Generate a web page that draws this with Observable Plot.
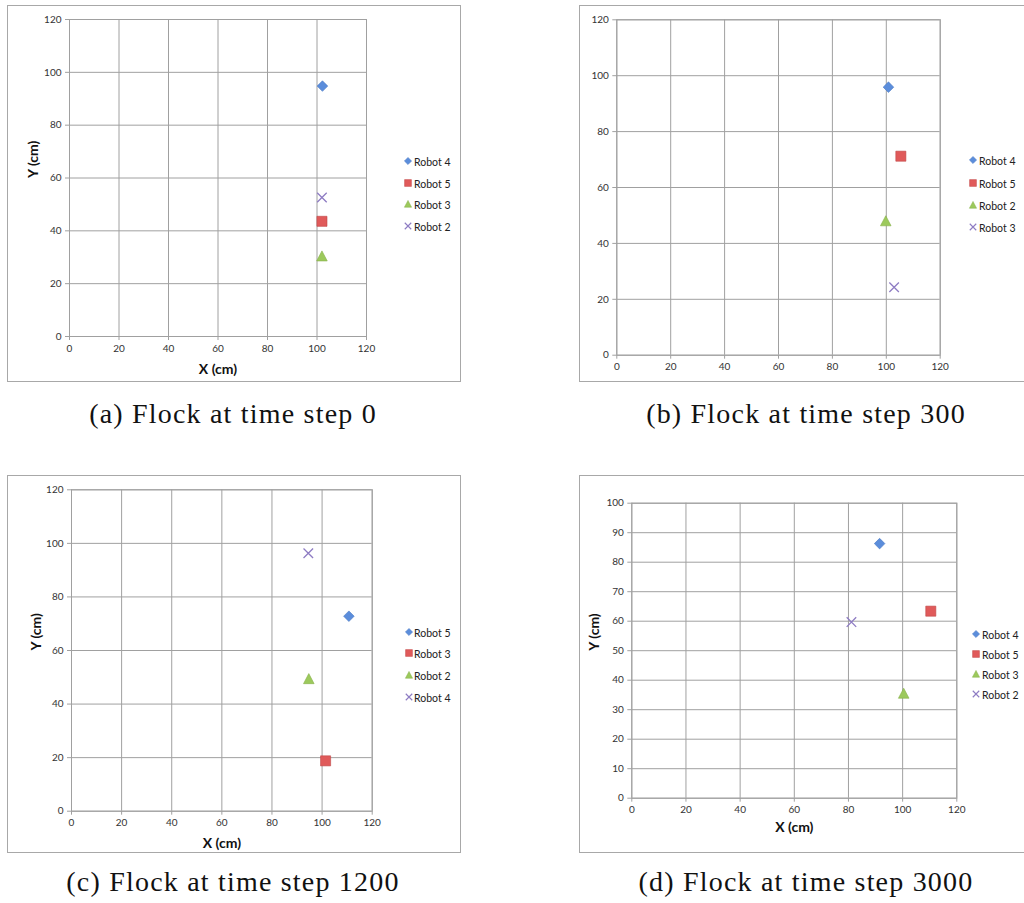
<!DOCTYPE html>
<html>
<head>
<meta charset="utf-8">
<script src="https://cdn.jsdelivr.net/npm/d3@7"></script>
<script src="https://cdn.jsdelivr.net/npm/@observablehq/plot@0.6"></script>
<style>
  html, body { margin: 0; padding: 0; background: #fff; }
  #fig { position: relative; width: 1024px; height: 903px; overflow: hidden; background: #fff; }
  .box { position: absolute; outline: 1px solid #a8a8a8; outline-offset: -1px; background: #fff; }
  .box svg { display: block; overflow: visible; }
  .legend { position: absolute; font-family: Lato, "Open Sans", sans-serif; font-size: 10.5px; color: #222; }
  .legend .row { position: absolute; white-space: nowrap; height: 12px; line-height: 12px; }
  .legend svg { position: absolute; overflow: visible; }
</style>
</head>
<body>
<div id="fig"></div>
<script>
// ---------------- DATA ----------------
// marker slots (legend order): blue diamond, red square, green triangle, purple cross
const xTicks = [0, 20, 40, 60, 80, 100, 120];
const yTicks120 = [0, 20, 40, 60, 80, 100, 120];
const yTicks100 = [0, 10, 20, 30, 40, 50, 60, 70, 80, 90, 100];

const captions = [
  "(a) Flock at time step 0",
  "(b) Flock at time step 300",
  "(c) Flock at time step 1200",
  "(d) Flock at time step 3000"
];

const namesA = ["Robot 4", "Robot 5", "Robot 3", "Robot 2"];
const xA = [102.2, 102.0, 102.0, 102.0];
const yA = [94.8, 43.6, 30.4, 52.6];

const namesB = ["Robot 4", "Robot 5", "Robot 2", "Robot 3"];
const xB = [100.8, 105.4, 99.8, 102.9];
const yB = [95.9, 71.2, 48.0, 24.3];

const namesC = ["Robot 5", "Robot 3", "Robot 2", "Robot 4"];
const xC = [110.7, 101.4, 94.7, 94.5];
const yC = [72.8, 18.8, 49.4, 96.3];

const namesD = ["Robot 4", "Robot 5", "Robot 3", "Robot 2"];
const xD = [91.5, 110.4, 100.4, 81.1];
const yD = [86.3, 63.4, 35.5, 59.7];

// ---------------- SYMBOLS ----------------
const SYM = [
  { draw(c, size) { const r = Math.sqrt(size / Math.PI); c.moveTo(0, -r); c.lineTo(r, 0); c.lineTo(0, r); c.lineTo(-r, 0); c.closePath(); } },
  { draw(c, size) { const r = Math.sqrt(size / Math.PI) * 0.95; c.rect(-r, -r, 2 * r, 2 * r); } },
  { draw(c, size) { const r = Math.sqrt(size / Math.PI); c.moveTo(0, -r); c.lineTo(r, r * 0.9); c.lineTo(-r, r * 0.9); c.closePath(); } },
  { draw(c, size) { const r = Math.sqrt(size / Math.PI) * 0.9; c.moveTo(-r, -r); c.lineTo(r, r); c.moveTo(r, -r); c.lineTo(-r, r); } }
];
const STYLE = [
  { fill: "#5b8ddb", stroke: "#4a78c2", strokeWidth: 0.6 },
  { fill: "#e05a5a", stroke: "#c04646", strokeWidth: 0.6 },
  { fill: "#9cc95c", stroke: "#87b048", strokeWidth: 0.6 },
  { fill: "none", stroke: "#8e7cc3", strokeWidth: 1.3 }
];

// ---------------- LAYOUT ----------------
const panels = [
  { names: namesA, xs: xA, ys: yA, ymax: 120, yTicks: yTicks120,
    box: { x: 7, y: 5, w: 454, h: 377 }, area: { x0: 69, x1: 366, yTop: 19, yBot: 336 },
    xLabel: "X (cm)", yLabel: "Y (cm)", xLabelDy: 37, yLabelDx: -36,
    legend: { mx: 407.5, tx: 414, rows: [162, 183.5, 205, 227] },
    cap: { cx: 233, base: 423 } },
  { names: namesB, xs: xB, ys: yB, ymax: 120, yTicks: yTicks120,
    box: { x: 579, y: 5, w: 447, h: 377 }, area: { x0: 616.3, x1: 939.7, yTop: 19.3, yBot: 354.7 },
    xLabel: null, yLabel: null,
    legend: { mx: 973, tx: 979, rows: [161, 183.5, 205.5, 228] },
    cap: { cx: 806, base: 423 } },
  { names: namesC, xs: xC, ys: yC, ymax: 120, yTicks: yTicks120,
    box: { x: 7, y: 475, w: 454, h: 378 }, area: { x0: 71, x1: 371.7, yTop: 489.3, yBot: 810.7 },
    xLabel: "X (cm)", yLabel: "Y (cm)", xLabelDy: 36.5, yLabelDx: -35,
    legend: { mx: 408.7, tx: 414, rows: [632.7, 654.3, 676.3, 698.3] },
    cap: { cx: 233, base: 891 } },
  { names: namesD, xs: xD, ys: yD, ymax: 100, yTicks: yTicks100,
    box: { x: 579, y: 475, w: 447, h: 378 }, area: { x0: 631.3, x1: 956.3, yTop: 502.7, yBot: 797.7 },
    xLabel: "X (cm)", yLabel: "Y (cm)", xLabelDy: 34, yLabelDx: -37.6,
    legend: { mx: 976.3, tx: 982, rows: [635, 655, 675, 695] },
    cap: { cx: 806, base: 891 } }
];

const fig = document.getElementById("fig");
const GRID = "#a0a0a0";

panels.forEach((p) => {
  const { box, area } = p;
  const data = p.names.map((n, i) => ({ name: n, x: p.xs[i], y: p.ys[i], slot: i }));

  const marks = [
    Plot.gridX(xTicks, { stroke: GRID, strokeOpacity: 1 }),
    Plot.gridY(p.yTicks, { stroke: GRID, strokeOpacity: 1 }),
    Plot.frame({ stroke: GRID }),
    Plot.axisX(xTicks, { tickSize: 4, tickPadding: 4, stroke: GRID, fill: "#333", label: null, tickFormat: (d) => String(d) }),
    Plot.axisY(p.yTicks, { tickSize: 4, tickPadding: 4, stroke: GRID, fill: "#333", label: null, tickFormat: (d) => String(d) })
  ];
  if (p.xLabel) {
    marks.push(Plot.text([p.xLabel], { text: (d) => d, frameAnchor: "bottom", dy: p.xLabelDy,
      fontWeight: "bold", fontSize: 14, fill: "#111" }));
  }
  if (p.yLabel) {
    marks.push(Plot.text([p.yLabel], { text: (d) => d, frameAnchor: "left", dx: p.yLabelDx, rotate: -90,
      fontWeight: "bold", fontSize: 14, fill: "#111" }));
  }
  data.forEach((d) => {
    marks.push(Plot.dot([d], { x: "x", y: "y", r: 5.3, symbol: SYM[d.slot], ...STYLE[d.slot],
      style: "filter: drop-shadow(1px 1px 1px rgba(0,0,0,0.25))" }));
  });

  const chart = Plot.plot({
    width: box.w,
    height: box.h,
    marginLeft: area.x0 - box.x,
    marginRight: box.x + box.w - area.x1,
    marginTop: area.yTop - box.y,
    marginBottom: box.y + box.h - area.yBot,
    x: { domain: [0, 120] },
    y: { domain: [0, p.ymax] },
    style: { fontFamily: "Lato, 'Open Sans', sans-serif", fontSize: "10px", color: "#333", background: "white", overflow: "visible" },
    marks
  });

  const wrap = document.createElement("div");
  wrap.className = "box";
  wrap.style.left = box.x + "px";
  wrap.style.top = box.y + "px";
  wrap.style.width = box.w + "px";
  wrap.style.height = box.h + "px";
  wrap.appendChild(chart);
  fig.appendChild(wrap);

  // legend
  const leg = document.createElement("div");
  leg.className = "legend";
  leg.style.left = "0px"; leg.style.top = "0px";
  p.names.forEach((name, i) => {
    const cy = p.legend.rows[i];
    const ns = "http://www.w3.org/2000/svg";
    const s = document.createElementNS(ns, "svg");
    s.setAttribute("width", 10); s.setAttribute("height", 10);
    s.style.left = (p.legend.mx - 5) + "px";
    s.style.top = (cy - 5 - 1) + "px";
    const path = document.createElementNS(ns, "path");
    const dp = d3.path();
    SYM[i].draw(dp, Math.PI * 3.6 * 3.6);
    path.setAttribute("d", dp.toString());
    path.setAttribute("transform", "translate(5,5)");
    path.setAttribute("fill", STYLE[i].fill);
    path.setAttribute("stroke", STYLE[i].stroke);
    path.setAttribute("stroke-width", i === 3 ? 1.1 : 0.5);
    s.appendChild(path);
    leg.appendChild(s);
    const row = document.createElement("div");
    row.className = "row";
    row.style.left = p.legend.tx + "px";
    row.style.top = (cy - 6) + "px";
    row.textContent = name;
    leg.appendChild(row);
  });
  fig.appendChild(leg);
});

// captions
const ns = "http://www.w3.org/2000/svg";
const capSvg = document.createElementNS(ns, "svg");
capSvg.setAttribute("width", 1024);
capSvg.setAttribute("height", 903);
capSvg.style.position = "absolute";
capSvg.style.left = "0px";
capSvg.style.top = "0px";
capSvg.style.pointerEvents = "none";
panels.forEach((p, i) => {
  const t = document.createElementNS(ns, "text");
  t.setAttribute("x", p.cap.cx);
  t.setAttribute("y", p.cap.base);
  t.setAttribute("text-anchor", "middle");
  t.setAttribute("font-family", "'Liberation Serif', 'DejaVu Serif', serif");
  t.setAttribute("font-size", "28");
  t.setAttribute("letter-spacing", "1.2");
  t.setAttribute("fill", "#111");
  t.textContent = captions[i];
  capSvg.appendChild(t);
});
fig.appendChild(capSvg);
</script>
</body>
</html>
